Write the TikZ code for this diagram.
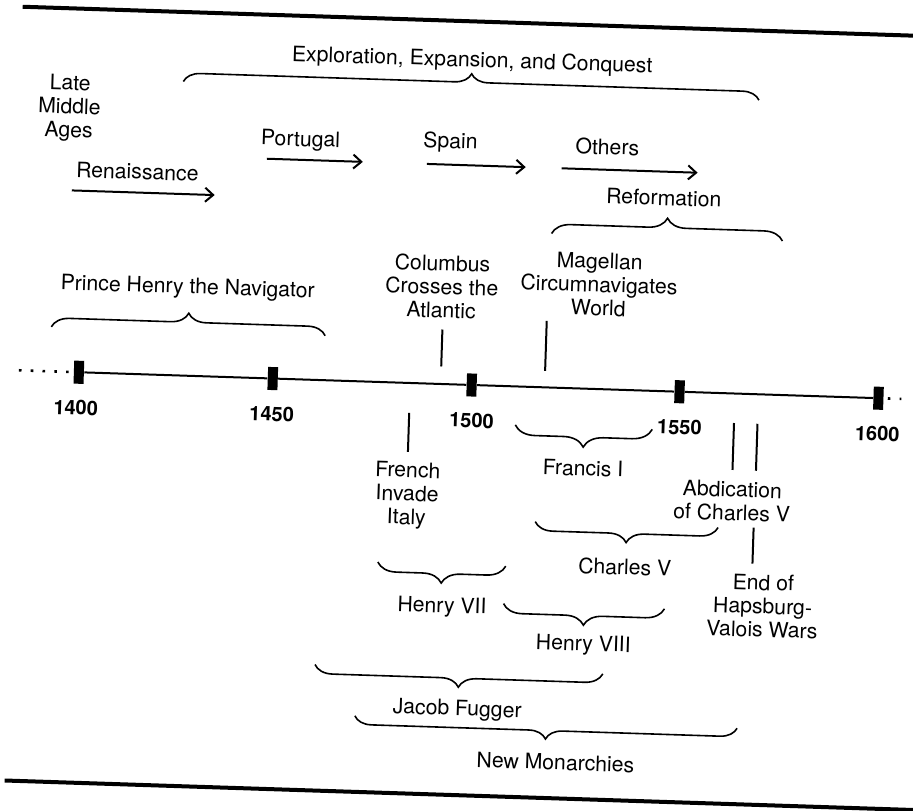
\documentclass[tikz,border=0pt]{standalone}
\usepackage{fontspec}
\setmainfont{TeX Gyre Heros}
\usetikzlibrary{arrows.meta,decorations.pathreplacing}

\tikzset{
  lbl/.style={font=\fontsize{10.6}{11.75}\selectfont, align=center, inner sep=0pt},
  yr/.style={font=\fontsize{10}{12}\selectfont\bfseries, inner sep=0pt},
  yeartick/.style={fill=black, minimum width=5pt, minimum height=11.5pt, inner sep=0pt},
  brc/.style={decorate, decoration={brace, amplitude=#1}, line width=0.8pt},
  brc/.default=9pt,
  mk/.style={line width=1pt},
  go/.style={line width=1pt, -{Straight Barb[length=4pt,width=7pt,line width=1pt]}},
  dots/.style={line width=1.3pt, dash pattern=on 1.3pt off 4.6pt},
  hrule/.style={line width=2pt}
}

\begin{document}
\begin{tikzpicture}[x=0.5pt, y=-0.5pt]
\useasboundingbox (0,0) rectangle (913,810);
\begin{scope}[rotate around={-1.86:(456,405)}, transform shape]
% rules
\coordinate (topL) at (10,21);
\coordinate (topR) at (940,21);
\coordinate (botL) at (17,795);
\coordinate (botR) at (940,795);
\draw[hrule] (topL) -- (topR);
\draw[hrule] (botL) -- (botR);

% upper part
\draw (461,61) node (expl) [lbl] {Exploration, Expansion, and Conquest};
\coordinate (explL) at (173,90.5);
\coordinate (explR) at (749,90.5);
\draw[brc=8.5pt] (explL) -- (explR);
\draw (60,121) node (lma) [lbl] {Late\\Middle\\Ages};
\draw (130,182) node (ren) [lbl] {Renaissance};
\coordinate (renA) at (65,203);
\coordinate (renB) at (208,203);
\draw[go] (renA) -- (renB);
\draw (292,146) node (por) [lbl] {Portugal};
\coordinate (porA) at (259,165);
\coordinate (porB) at (355,165);
\draw[go] (porA) -- (porB);
\draw (442,143) node (spa) [lbl] {Spain};
\coordinate (spaA) at (419,165);
\coordinate (spaB) at (518,165);
\draw[go] (spaA) -- (spaB);
\draw (599,142) node (oth) [lbl] {Others};
\coordinate (othA) at (554,165);
\coordinate (othB) at (690,165);
\draw[go] (othA) -- (othB);
\draw (657,191) node (refm) [lbl] {Reformation};
\coordinate (refmL) at (546,230.5);
\coordinate (refmR) at (777,230.5);
\draw[brc=9.5pt] (refmL) -- (refmR);

% above the line
\draw (184,297) node (phn) [lbl] {Prince Henry the Navigator};
\coordinate (phnL) at (49,340);
\coordinate (phnR) at (323,340);
\draw[brc] (phnL) -- (phnR);
\draw (438,287) node (col) [lbl] {Columbus\\Crosses the\\Atlantic};
\coordinate (colA) at (440,330);
\coordinate (colB) at (440,367);
\draw[mk] (colA) -- (colB);
\draw (595,280) node (mag) [lbl] {Magellan\\Circumnavigates\\World};
\coordinate (magA) at (544,318);
\coordinate (magB) at (544,368);
\draw[mk] (magA) -- (magB);

% time line
\draw (78,384.5) node (t1400) [yeartick] {};
\draw (272,384.5) node (t1450) [yeartick] {};
\draw (471,384.5) node (t1500) [yeartick] {};
\draw (679,384.5) node (t1550) [yeartick] {};
\draw (878,384.5) node (t1600) [yeartick] {};
\draw[mk] (t1400) -- (t1450) -- (t1500) -- (t1550) -- (t1600);
\coordinate (dotsL) at (18,384.5);
\coordinate (dotsR) at (901,384.5);
\draw[dots] (dotsL) -- (t1400.west);
\draw[dots] ([xshift=2pt]t1600.east) -- (dotsR);
\draw (76,420) node (y1400) [yr] {1400};
\draw (272,420) node (y1450) [yr] {1450};
\draw (472,420) node (y1500) [yr] {1500};
\draw (680,420) node (y1550) [yr] {1550};
\draw (878,420) node (y1600) [yr] {1600};

% below the line
\coordinate (fiiA) at (409.5,414.5);
\coordinate (fiiB) at (409.5,453.5);
\draw[mk] (fiiA) -- (fiiB);
\draw (410,497) node (fii) [lbl] {French\\Invade\\Italy};
\coordinate (fraR) at (653,423);
\coordinate (fraL) at (516,423);
\draw[brc=10pt] (fraR) -- (fraL);
\draw (585,464) node (fra) [lbl] {Francis I};
\coordinate (abdA) at (734.5,414);
\coordinate (abdB) at (734.5,461);
\coordinate (hvwA) at (758,414);
\coordinate (hvwB) at (758,461);
\draw[mk] (abdA) -- (abdB);
\draw[mk] (hvwA) -- (hvwB);
\draw (735,492) node (abd) [lbl] {Abdication\\of Charles V};
\coordinate (endA) at (757.5,518);
\coordinate (endB) at (757.5,554);
\draw[mk] (endA) -- (endB);
\draw (769,596) node (hvw) [lbl] {End of\\Hapsburg-\\Valois Wars};
\coordinate (chvR) at (722,519);
\coordinate (chvL) at (539,519);
\draw[brc] (chvR) -- (chvL);
\draw (630,561.5) node (chv) [lbl] {Charles V};
\coordinate (h7R) at (511,564.5);
\coordinate (h7L) at (383,564.5);
\draw[brc=9.5pt] (h7R) -- (h7L);
\draw (448.5,607.5) node (h7) [lbl] {Henry VII};
\coordinate (h8R) at (671,602);
\coordinate (h8L) at (510,602);
\draw[brc=9.5pt] (h8R) -- (h8L);
\draw (591,641) node (h8) [lbl] {Henry VIII};
\coordinate (jfR) at (611.5,669);
\coordinate (jfL) at (323.5,669);
\draw[brc] (jfR) -- (jfL);
\draw (467,710) node (jf) [lbl] {Jacob Fugger};
\coordinate (nmR) at (747.5,719);
\coordinate (nmL) at (365,719);
\draw[brc=8.5pt] (nmR) -- (nmL);
\draw (567,759) node (nm) [lbl] {New Monarchies};
\end{scope}
\end{tikzpicture}
\end{document}
